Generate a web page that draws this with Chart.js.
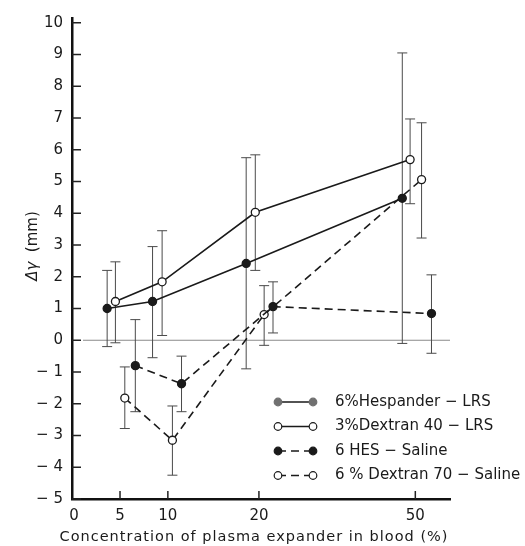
<!DOCTYPE html>
<html>
<head>
<meta charset="utf-8">
<script src="https://cdn.jsdelivr.net/npm/chart.js@4.4.0/dist/chart.umd.min.js"></script>
<style>
  html, body { margin: 0; padding: 0; background: #fff; }
  #wrap { width: 525px; height: 546px; }
</style>
</head>
<body>
<div id="wrap"><canvas id="chart" width="525" height="546"></canvas></div>
<script>
// x axis is not uniform: concentration ticks and where they sit along the axis
const xTickValues = [0, 5, 10, 20, 50];
const xTickLabels = ['0', '5', '10', '20', '50'];
const xTickPos = [0, 5, 10.2, 20.1, 37.1];
const yTicks = [-5, -4, -3, -2, -1, 0, 1, 2, 3, 4, 5, 6, 7, 8, 9, 10];

// concentration (%), mean Δγ (mm), top and bottom of error bar
const hespConc = [3.6, 8.4, 18.6, 47.5];
const hespVal  = [1.0, 1.22, 2.42, 4.47];
const hespHi   = [2.2, 2.95, 5.75, 9.05];
const hespLo   = [-0.2, -0.55, -0.9, -0.1];

const dex40Conc = [4.5, 9.4, 19.6, 49.0];
const dex40Val  = [1.22, 1.84, 4.03, 5.69];
const dex40Hi   = [2.47, 3.45, 5.84, 6.97];
const dex40Lo   = [-0.08, 0.15, 2.2, 4.3];

const hesConc = [6.6, 11.5, 22.7, 53.1];
const hesVal  = [-0.8, -1.37, 1.06, 0.84];
const hesHi   = [0.65, -0.5, 1.84, 2.06];
const hesLo   = [-2.25, -2.25, 0.23, -0.41];

const dex70Conc = [5.5, 10.5, 21.0, 51.2];
const dex70Val  = [-1.82, -3.15, 0.81, 5.06];
const dex70Hi   = [-0.84, -2.07, 1.72, 6.85];
const dex70Lo   = [-2.78, -4.25, -0.16, 3.22];

const seriesLabels = ['6%Hespander \u2212 LRS', '3%Dextran 40 \u2212 LRS', '6 HES \u2212 Saline', '6 % Dextran 70 \u2212 Saline'];

const FONT = 'DejaVu Sans';
const INK = '#1a1a1a';

// piecewise mapping of a concentration onto the drawn axis
function toAxis(c) {
    const n = xTickValues.length;
    let i = 0;
    while (i < n - 2 && c > xTickValues[i + 1]) i++;
    const t = (c - xTickValues[i]) / (xTickValues[i + 1] - xTickValues[i]);
    return xTickPos[i] + t * (xTickPos[i + 1] - xTickPos[i]);
}

function series(label, conc, val, hi, lo, dashed, filled, legendFill) {
    return {
        label: label,
        data: conc.map((c, i) => ({ x: toAxis(c), y: val[i] })),
        errHi: hi,
        errLo: lo,
        legendFill: legendFill,
        showLine: true,
        borderColor: INK,
        borderWidth: 1.6,
        borderDash: dashed ? [8, 5] : [],
        pointRadius: 4,
        pointBorderWidth: 1.3,
        pointBackgroundColor: filled ? INK : '#fff',
        pointBorderColor: INK,
        tension: 0,
        clip: false
    };
}

const decor = {
    id: 'decor',
    beforeDatasetsDraw(chart) {
        const ctx = chart.ctx;
        const xs = chart.scales.x, ys = chart.scales.y;
        const area = chart.chartArea;
        ctx.save();
        // zero line
        ctx.strokeStyle = '#8a8a8a';
        ctx.lineWidth = 1;
        const y0 = ys.getPixelForValue(0);
        ctx.beginPath();
        ctx.moveTo(area.left + 11, y0);
        ctx.lineTo(area.right, y0);
        ctx.stroke();
        // inward tick marks
        ctx.strokeStyle = '#222';
        ctx.lineWidth = 1.5;
        yTicks.forEach(v => {
            const y = ys.getPixelForValue(v);
            ctx.beginPath();
            ctx.moveTo(area.left, y);
            ctx.lineTo(area.left + 9, y);
            ctx.stroke();
        });
        xTickPos.slice(1).forEach(v => {
            const x = xs.getPixelForValue(v);
            ctx.beginPath();
            ctx.moveTo(x, area.bottom);
            ctx.lineTo(x, area.bottom - 8);
            ctx.stroke();
        });
        // error bars
        ctx.strokeStyle = '#4a4a4a';
        ctx.lineWidth = 1;
        chart.data.datasets.forEach(ds => {
            ds.data.forEach((p, i) => {
                const x = xs.getPixelForValue(p.x);
                const yh = ys.getPixelForValue(ds.errHi[i]);
                const yl = ys.getPixelForValue(ds.errLo[i]);
                ctx.beginPath();
                ctx.moveTo(x, yh); ctx.lineTo(x, yl);
                ctx.moveTo(x - 5, yh); ctx.lineTo(x + 5, yh);
                ctx.moveTo(x - 5, yl); ctx.lineTo(x + 5, yl);
                ctx.stroke();
            });
        });
        ctx.restore();
    },
    afterDraw(chart) {
        const ctx = chart.ctx;
        ctx.save();
        // legend
        chart.data.datasets.forEach((ds, i) => {
            const y = 402 + i * 24.5;
            const x1 = 278, x2 = 313;
            ctx.strokeStyle = INK;
            ctx.lineWidth = 1.6;
            ctx.setLineDash(ds.borderDash);
            ctx.beginPath();
            ctx.moveTo(x1, y); ctx.lineTo(x2, y);
            ctx.stroke();
            ctx.setLineDash([]);
            [x1, x2].forEach(x => {
                ctx.beginPath();
                ctx.arc(x, y, 3.8, 0, Math.PI * 2);
                ctx.fillStyle = ds.legendFill || ds.pointBackgroundColor;
                ctx.fill();
                ctx.lineWidth = 1.2;
                ctx.strokeStyle = ds.legendFill || INK;
                ctx.stroke();
            });
            ctx.fillStyle = INK;
            ctx.font = '15px "' + FONT + '"';
            ctx.textAlign = 'left';
            ctx.textBaseline = 'middle';
            ctx.fillText(ds.label, 335, y);
        });
        // x title
        ctx.fillStyle = INK;
        ctx.font = '14.5px "' + FONT + '"';
        ctx.letterSpacing = '1px';
        ctx.textAlign = 'center';
        ctx.textBaseline = 'middle';
        ctx.fillText('Concentration of plasma expander in blood (%)', 254, 537);
        ctx.letterSpacing = '0px';
        // y title, rotated
        ctx.translate(33, 246);
        ctx.rotate(-Math.PI / 2);
        const a = 'Δγ', b = '  (mm)';
        ctx.font = 'italic 15px "' + FONT + '"';
        const wa = ctx.measureText(a).width;
        ctx.font = '15px "' + FONT + '"';
        const wb = ctx.measureText(b).width;
        ctx.textAlign = 'left';
        ctx.font = 'italic 15px "' + FONT + '"';
        ctx.fillText(a, -(wa + wb) / 2, 0);
        ctx.font = '15px "' + FONT + '"';
        ctx.fillText(b, -(wa + wb) / 2 + wa, 0);
        ctx.restore();
    }
};

new Chart(document.getElementById('chart').getContext('2d'), {
    type: 'scatter',
    data: {
        datasets: [
            series(seriesLabels[0], hespConc, hespVal, hespHi, hespLo, false, true, '#707070'),
            series(seriesLabels[1], dex40Conc, dex40Val, dex40Hi, dex40Lo, false, false, null),
            series(seriesLabels[2], hesConc, hesVal, hesHi, hesLo, true, true, null),
            series(seriesLabels[3], dex70Conc, dex70Val, dex70Hi, dex70Lo, true, false, null)
        ]
    },
    options: {
        responsive: false,
        animation: false,
        events: [],
        layout: { padding: { top: 14, right: 75, left: 0, bottom: 0 } },
        plugins: { legend: { display: false }, tooltip: { enabled: false } },
        scales: {
            x: {
                type: 'linear', min: -0.22, max: 40.87,
                afterBuildTicks: s => { s.ticks = xTickPos.map(v => ({ value: v })); },
                afterFit: s => { s.height = 47; },
                grid: { display: false, drawTicks: false },
                border: { display: true, width: 2.5, color: '#111' },
                ticks: {
                    padding: 8, autoSkip: false, maxRotation: 0, color: INK,
                    font: { family: FONT, size: 15 },
                    callback: (v, i) => xTickLabels[i]
                }
            },
            y: {
                type: 'linear', min: -5, max: 10.15,
                afterBuildTicks: s => { s.ticks = yTicks.map(v => ({ value: v })); },
                afterFit: s => { s.width = 72; },
                grid: { display: false, drawTicks: false },
                border: { display: true, width: 2.5, color: '#111' },
                ticks: {
                    padding: 9, color: INK,
                    font: { family: FONT, size: 15 },
                    callback: v => v < 0 ? '\u2212 ' + Math.abs(v) : String(v)
                }
            }
        }
    },
    plugins: [decor]
});
</script>
</body>
</html>
